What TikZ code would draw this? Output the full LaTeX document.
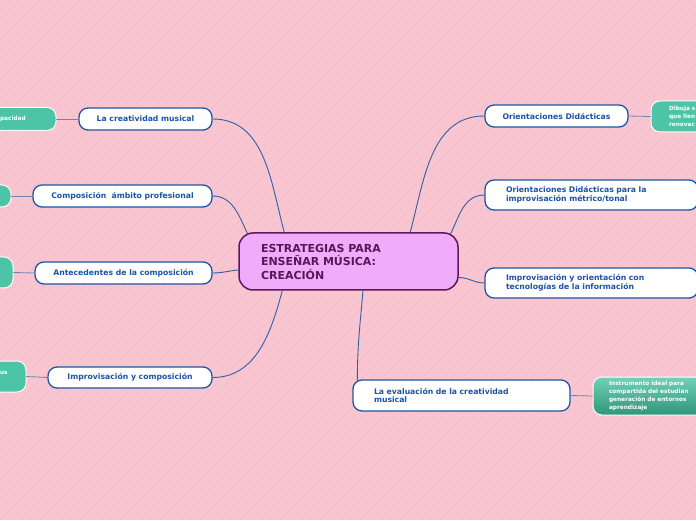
\documentclass[tikz,border=0pt]{standalone}
\usepackage{fontspec}
\setmainfont{DejaVu Sans}
\definecolor{bgpink}{RGB}{248,197,208}
\definecolor{stripepink}{RGB}{243,189,202}
\definecolor{hubfill}{RGB}{240,172,250}
\definecolor{hubline}{RGB}{92,24,92}
\definecolor{hubtext}{RGB}{88,24,88}
\definecolor{mapblue}{RGB}{28,84,164}
\definecolor{linkblue}{RGB}{48,96,168}
\definecolor{twiggray}{RGB}{112,130,182}
\definecolor{leafgreen}{RGB}{78,196,166}
\definecolor{leaflight}{RGB}{112,210,184}
\definecolor{leafdark}{RGB}{48,150,120}

\begin{document}
\begin{tikzpicture}[x=1pt,y=1pt,line cap=round,line join=round,
  hub/.style={draw=hubline,line width=1.5pt,fill=hubfill,rounded corners=14pt,
    minimum width=219pt,minimum height=57pt,text width=175pt,inner xsep=22pt,
    align=left,font=\bfseries\fontsize{11}{13.5}\selectfont,text=hubtext},
  branch/.style={draw=mapblue,line width=1.3pt,fill=white,rounded corners=9pt,
    minimum height=22pt,inner ysep=0pt,font=\bfseries\fontsize{7.7}{8.7}\selectfont,text=mapblue},
  longbranch/.style={branch,minimum height=30pt,inner xsep=21pt,align=left},
  leaf/.style={draw=white,line width=1pt,fill=leafgreen,rounded corners=9pt,inner ysep=0pt,
    align=left,font=\bfseries\fontsize{5.8}{8}\selectfont,text=white},
  link/.style={draw=linkblue,line width=0.9pt},
  twig/.style={draw=twiggray,line width=0.8pt},
  stripe/.style={draw=stripepink,line width=0.6pt}]
\useasboundingbox (0,0) rectangle (696,520);
\clip (0,0) rectangle (696,520);
\fill[bgpink] (0,0) rectangle (696,520);
\foreach \s in {-520,-510,...,700}
  \draw[stripe] (\s,0) -- ++(520,520);

% central topic
\node[hub] (hub) at (348.5,258.5) {ESTRATEGIAS PARA\\ENSEÑAR MÚSICA:\\CREACIÓN};

% left side
\node[branch,minimum width=133pt] (creat) at (145.5,401) {La creatividad musical};
\node[branch,minimum width=179pt] (compo) at (122.5,324) {Composición\ \ ámbito profesional};
\node[branch,minimum width=177pt] (antec) at (123.5,247) {Antecedentes de la composición};
\node[branch,minimum width=164pt,minimum height=21pt] (improcomp) at (130,142.5) {Improvisación y composición};

% right side
\node[branch,minimum width=143pt] (orient) at (556.5,404) {Orientaciones Didácticas};
\node[longbranch,text width=171pt] (orimpro) at (591.5,325) {Orientaciones Didácticas para la\\improvisación métrico/tonal};
\node[longbranch,text width=171pt] (tecno) at (591.5,237) {Improvisación y orientación con\\tecnologías de la información};
\node[longbranch,text width=175pt,minimum height=31pt] (evalua) at (461.5,124.5) {La evaluación de la creatividad\\musical};

% green notes, cut by the page edge
\node[leaf,minimum width=76pt,minimum height=23pt,text width=36pt,inner xsep=20pt] (capac) at (18,401) {pacidad};
\node[leaf,minimum width=41pt,minimum height=22pt] (compnote) at (-9.5,324) {};
\node[leaf,minimum width=43pt,minimum height=31pt] (antnote) at (-8.5,247.5) {};
\node[leaf,minimum width=36pt,minimum height=31pt,text width=16pt,inner xsep=10pt] (impnote) at (8,143.5) {us\\\mbox{}};
\node[leaf,minimum width=89pt,minimum height=31pt,text width=53pt,inner xsep=18pt] (dibuja) at (695.5,403.5) {Dibuja s\\que llen\\renovac};
\node[leaf,top color=leaflight,bottom color=leafdark,minimum width=167pt,minimum height=38pt,
  text width=135pt,inner xsep=16pt] (instru) at (676.5,124) {Instrumento ideal para\\compartida del estudian\\generación de entornos\\aprendizaje};

% connectors from the centre
\draw[link] ([xshift=46pt]hub.north west) to[out=105,in=0] (creat.east);
\draw[link] ([xshift=9pt,yshift=-1pt]hub.north west) to[out=115,in=0] (compo.east);
\draw[link] ([yshift=-8.5pt]hub.west) to[out=185,in=0] (antec.east);
\draw[link] ([xshift=44pt]hub.south west) to[out=-105,in=0] (improcomp.east);
\draw[link] ([xshift=172pt]hub.north west) to[out=75,in=180] (orient.west);
\draw[link] ([xshift=-8pt,yshift=-1.5pt]hub.north east) to[out=65,in=180] (orimpro.west);
\draw[link] ([yshift=-16pt]hub.east) to[out=0,in=180] (tecno.west);
\draw[link] ([xshift=14.5pt]hub.south) to[out=-95,in=90] ([xshift=5pt,yshift=-1pt]evalua.north west);

% connectors to the notes
\draw[twig] (creat.west) -- (capac.east);
\draw[twig] (compo.west) -- (compnote.east);
\draw[twig] (antec.west) -- (antnote.east);
\draw[twig] (improcomp.west) -- (impnote.east);
\draw[twig] (orient.east) -- (dibuja.west);
\draw[twig] (evalua.east) -- (instru.west);
\end{tikzpicture}
\end{document}
